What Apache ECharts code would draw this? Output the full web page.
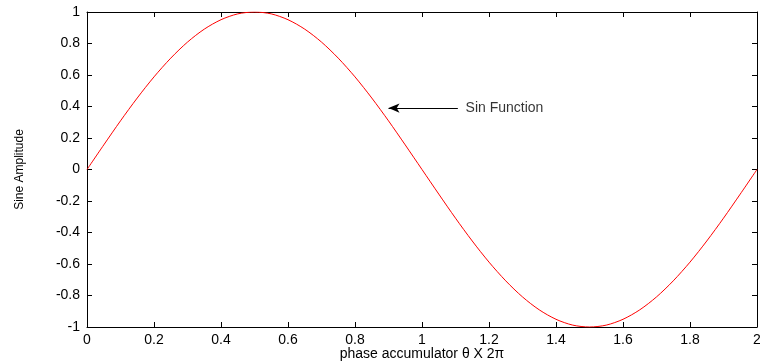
<!DOCTYPE html>
<html>
<head>
<meta charset="utf-8">
<script src="https://cdn.jsdelivr.net/npm/echarts@6/dist/echarts.min.js"></script>
<style>html,body{margin:0;padding:0;background:#fff}#c{width:760px;height:363px}</style>
</head>
<body>
<div id="c"></div>
<script>
// phase (x, in units of 2π) and sine amplitude
const phase = [0,0.05,0.1,0.15,0.2,0.25,0.3,0.35,0.4,0.45,0.5,0.55,0.6,0.65,0.7,0.75,0.8,0.85,0.9,0.95,1,
  1.05,1.1,1.15,1.2,1.25,1.3,1.35,1.4,1.45,1.5,1.55,1.6,1.65,1.7,1.75,1.8,1.85,1.9,1.95,2];
const amplitude = [0,0.156,0.309,0.454,0.588,0.707,0.809,0.891,0.951,0.988,1,0.988,0.951,0.891,0.809,0.707,0.588,0.454,0.309,0.156,0,
  -0.156,-0.309,-0.454,-0.588,-0.707,-0.809,-0.891,-0.951,-0.988,-1,-0.988,-0.951,-0.891,-0.809,-0.707,-0.588,-0.454,-0.309,-0.156,0];
const xTicks = [0,0.2,0.4,0.6,0.8,1,1.2,1.4,1.6,1.8,2];
const yTicks = [-1,-0.8,-0.6,-0.4,-0.2,0,0.2,0.4,0.6,0.8,1];
const annotationText = 'Sin Function';
const arrowTail = [1.107, 0.39];
const arrowHead = [0.9, 0.39];
const labelAt = [1.13, 0.39];

const fmt = v => String(Math.round(v * 10) / 10);
const font = 'Liberation Sans, Arial, sans-serif';
const axisLine = {show: true, onZero: false, lineStyle: {color: '#000', width: 1}};
const tick = {show: true, inside: true, length: 5, lineStyle: {color: '#000'}};

const chart = echarts.init(document.getElementById('c'), null, {renderer: 'canvas'});
chart.setOption({
  animation: false,
  backgroundColor: '#fff',
  grid: {left: 87, right: 3, top: 12, bottom: 36, containLabel: false, outerBoundsMode: 'none'},
  xAxis: [
    {type: 'value', position: 'bottom', min: xTicks[0], max: xTicks[xTicks.length - 1], interval: 0.2,
     axisLine: axisLine, axisTick: tick, splitLine: {show: false},
     axisLabel: {color: '#000', fontFamily: font, fontSize: 14, margin: 6, formatter: fmt},
     name: 'phase accumulator θ X 2π', nameLocation: 'middle', nameGap: 20, nameMoveOverlap: false,
     nameTextStyle: {color: '#000', fontFamily: font, fontSize: 14}},
    {type: 'value', position: 'top', min: xTicks[0], max: xTicks[xTicks.length - 1], interval: 0.2,
     axisLine: axisLine, axisTick: tick, splitLine: {show: false}, axisLabel: {show: false}}
  ],
  yAxis: [
    {type: 'value', position: 'left', min: yTicks[0], max: yTicks[yTicks.length - 1], interval: 0.2,
     axisLine: axisLine, axisTick: tick, splitLine: {show: false},
     axisLabel: {color: '#000', fontFamily: font, fontSize: 14, margin: 7, formatter: fmt},
     name: 'Sine Amplitude', nameLocation: 'middle', nameGap: 61, nameRotate: 90, nameMoveOverlap: false,
     nameTextStyle: {color: '#000', fontFamily: font, fontSize: 12}},
    {type: 'value', position: 'right', min: yTicks[0], max: yTicks[yTicks.length - 1], interval: 0.2,
     axisLine: axisLine, axisTick: tick, splitLine: {show: false}, axisLabel: {show: false}}
  ],
  series: [
    {type: 'line', xAxisIndex: 0, yAxisIndex: 0, showSymbol: false, smooth: 0.3,
     lineStyle: {color: '#ff0000', width: 1},
     data: phase.map((p, i) => [p, amplitude[i]]),
     markLine: {
       silent: true, symbol: ['none', 'arrow'], symbolSize: [7, 11],
       lineStyle: {color: '#000', width: 1, type: 'solid'},
       label: {show: false},
       data: [[{coord: arrowTail}, {coord: arrowHead}]]
     }},
    {type: 'scatter', xAxisIndex: 0, yAxisIndex: 0, symbolSize: 0, silent: true,
     data: [labelAt],
     label: {show: true, position: 'right', distance: 0, formatter: annotationText,
             color: '#000', fontFamily: font, fontSize: 14}}
  ]
});
</script>
</body>
</html>
